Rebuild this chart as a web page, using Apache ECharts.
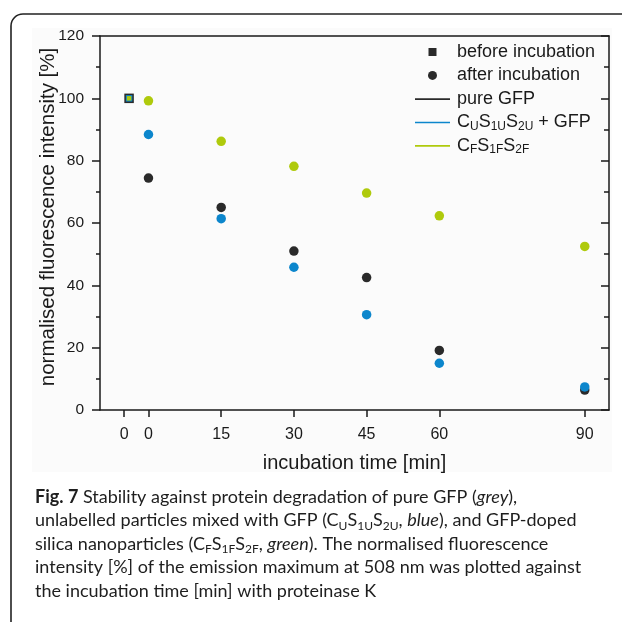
<!DOCTYPE html>
<html>
<head>
<meta charset="utf-8">
<script src="https://cdn.jsdelivr.net/npm/echarts@6/dist/echarts.min.js"></script>
<style>
html, body { margin: 0; padding: 0; background: #fff; }
#main { width: 622px; height: 622px; }
</style>
</head>
<body>
<div id="main"></div>
<script>
// x tick positions (min) and the labels printed under them
var timeTicks = [-5, 0, 15, 30, 45, 60, 90];
var timeLabels = ['0', '0', '15', '30', '45', '60', '90'];
// after incubation
var afterTimes = [0, 15, 30, 45, 60, 90];
var pureGfp = [74.4, 65.0, 51.0, 42.5, 19.1, 6.4];
var cuGfp = [88.4, 61.4, 45.8, 30.6, 15.0, 7.4];
var cfParticles = [99.2, 86.2, 78.2, 69.6, 62.3, 52.5];
// before incubation (pure GFP, CU + GFP, CF)
var beforeTime = -4;
var beforeValues = [100, 100, 100];

var captionLines = [
	'{b|Fig. 7} Stability against protein degradation of pure GFP ({i|grey}),',
	'unlabelled particles mixed with GFP (C{s|U}S{s|1U}S{s|2U}, {i|blue}), and GFP-doped',
	'silica nanoparticles (C{s|F}S{s|1F}S{s|2F}, {i|green}). The normalised fluorescence',
	'intensity [%] of the emission maximum at 508 nm was plotted against',
	'the incubation time [min] with proteinase K'
];

var BLACK = '#2a2a2a';
var BLUE = '#0c86cc';
var GREEN = '#afca0c';
var TEXT = '#1a1a1a';
var FONT = 'Liberation Sans';
var CAPTION_FONT = 'Lato';

function pairs(xs, ys) {
	var out = [];
	for (var i = 0; i < xs.length; i++) {
		out.push([xs[i], ys[i]]);
	}
	return out;
}

var legendNames = {
	'before incubation' : 'before incubation',
	'after incubation' : 'after incubation',
	'pure GFP' : 'pure GFP',
	'CU + GFP' : 'C{s|U}S{s|1U}S{s|2U} + GFP',
	'CF' : 'C{s|F}S{s|1F}S{s|2F}'
};
// icons drawn inside a padded 35x9 box so they are not stretched
var lineIcon = 'path://M0,0M0,4L35,4L35,5.6L0,5.6ZM35,9';
var squareIcon = 'path://M0,0M13.5,0.5L21.5,0.5L21.5,8.5L13.5,8.5ZM35,9';

var myChart = echarts.init(document.getElementById('main'));

var option = {
	animation : false,
	textStyle : {
		fontFamily : FONT,
		color : TEXT
	},
	grid : {
		left : 100,
		right : 13,
		top : 36,
		bottom : 212,
		containLabel : false,
		outerBoundsMode : 'none'
	},
	legend : {
		orient : 'vertical',
		left : 415,
		top : 42,
		padding : 0,
		itemGap : 3.4,
		itemWidth : 35,
		itemHeight : 9,
		selectedMode : false,
		textStyle : {
			fontFamily : FONT,
			fontSize : 18,
			lineHeight : 20,
			color : TEXT,
			padding : [0, 0, 0, 2],
			rich : {
				s : {
					fontFamily : FONT,
					fontSize : 12,
					lineHeight : 10,
					verticalAlign : 'bottom',
					color : TEXT
				}
			}
		},
		formatter : function(name) {
			return legendNames[name];
		},
		data : [
			{ name : 'before incubation', icon : squareIcon },
			{ name : 'after incubation', icon : 'circle' },
			{ name : 'pure GFP', icon : lineIcon },
			{ name : 'CU + GFP', icon : lineIcon },
			{ name : 'CF', icon : lineIcon }
		]
	},
	xAxis : [{
		type : 'value',
		position : 'bottom',
		min : -10,
		max : 95,
		name : 'incubation time [min]',
		nameLocation : 'middle',
		nameGap : 43,
		nameMoveOverlap : false,
		nameTextStyle : { fontFamily : FONT, fontSize : 20, color : TEXT },
		splitLine : { show : false },
		axisLine : { show : true, onZero : false, lineStyle : { color : TEXT, width : 1.5 } },
		axisTick : {
			show : true,
			inside : false,
			length : 7,
			customValues : timeTicks,
			lineStyle : { color : TEXT, width : 1.5 }
		},
		axisLabel : {
			show : true,
			margin : 17,
			fontFamily : FONT,
			fontSize : 16,
			color : TEXT,
			customValues : timeTicks,
			formatter : function(v) {
				var k = timeTicks.indexOf(v);
				return k >= 0 ? timeLabels[k] : '';
			}
		}
	}, {
		type : 'value',
		position : 'top',
		min : -10,
		max : 95,
		splitLine : { show : false },
		axisLine : { show : true, onZero : false, lineStyle : { color : TEXT, width : 1.5 } },
		axisTick : { show : false },
		axisLabel : { show : false }
	}],
	yAxis : [{
		type : 'value',
		position : 'left',
		min : 0,
		max : 120,
		interval : 20,
		name : 'normalised fluorescence intensity [%]',
		nameLocation : 'middle',
		nameGap : 41,
		nameMoveOverlap : false,
		nameTextStyle : { fontFamily : FONT, fontSize : 20.5, color : TEXT, padding : [0, 0, 0, 12] },
		splitLine : { show : false },
		axisLine : { show : true, onZero : false, lineStyle : { color : TEXT, width : 1.5 } },
		axisTick : { show : true, inside : false, length : 8, lineStyle : { color : TEXT, width : 1.5 } },
		minorTick : { show : true, splitNumber : 2, length : 4, lineStyle : { color : TEXT, width : 1.5 } },
		axisLabel : { margin : 16, fontFamily : FONT, fontSize : 15.5, color : TEXT }
	}, {
		type : 'value',
		position : 'right',
		min : 0,
		max : 120,
		interval : 20,
		splitLine : { show : false },
		axisLine : { show : true, onZero : false, lineStyle : { color : TEXT, width : 1.5 } },
		axisTick : { show : true, inside : true, length : 8, lineStyle : { color : TEXT, width : 1.5 } },
		minorTick : { show : true, splitNumber : 2, length : 5, lineStyle : { color : TEXT, width : 1.5 } },
		axisLabel : { show : false }
	}],
	graphic : [{
		type : 'rect',
		z : -10,
		silent : true,
		shape : { x : 32, y : 28, width : 580, height : 444 },
		style : { fill : '#fbfbfb' }
	}, {
		type : 'rect',
		z : -9,
		silent : true,
		shape : { x : 11, y : 14, width : 660, height : 660, r : 12 },
		style : { fill : 'none', stroke : '#222', lineWidth : 1.6 }
	}, {
		type : 'text',
		silent : true,
		style : {
			x : 35,
			y : 485,
			verticalAlign : 'top',
			text : captionLines.join('\n'),
			fontFamily : CAPTION_FONT,
			fontSize : 18,
			lineHeight : 23.5,
			fill : '#1e1e1e',
			rich : {
				b : { fontFamily : CAPTION_FONT, fontSize : 18, fontWeight : 'bold', lineHeight : 23.5 },
				i : { fontFamily : CAPTION_FONT, fontSize : 18, fontStyle : 'italic', lineHeight : 23.5 },
				s : { fontFamily : CAPTION_FONT, fontSize : 12, lineHeight : 10, verticalAlign : 'bottom' }
			}
		}
	}],
	series : [{
		name : 'before incubation',
		type : 'scatter',
		symbol : 'rect',
		symbolSize : 9.5,
		itemStyle : { color : BLACK, opacity : 1 },
		data : [[beforeTime, beforeValues[0]]]
	}, {
		name : 'CU before',
		type : 'scatter',
		symbol : 'rect',
		symbolSize : 6.5,
		itemStyle : { color : BLUE, opacity : 1 },
		data : [[beforeTime, beforeValues[1]]]
	}, {
		name : 'CF before',
		type : 'scatter',
		symbol : 'rect',
		symbolSize : 4.5,
		itemStyle : { color : GREEN, opacity : 1 },
		data : [[beforeTime, beforeValues[2]]]
	}, {
		name : 'after incubation',
		type : 'scatter',
		symbol : 'circle',
		itemStyle : { color : BLACK, opacity : 1 },
		data : []
	}, {
		name : 'pure GFP',
		type : 'scatter',
		symbolSize : 9.5,
		itemStyle : { color : BLACK, opacity : 1 },
		data : pairs(afterTimes, pureGfp)
	}, {
		name : 'CU + GFP',
		type : 'scatter',
		symbolSize : 9.5,
		itemStyle : { color : BLUE, opacity : 1 },
		data : pairs(afterTimes, cuGfp)
	}, {
		name : 'CF',
		type : 'scatter',
		symbolSize : 9.5,
		itemStyle : { color : GREEN, opacity : 1 },
		data : pairs(afterTimes, cfParticles)
	}]
};

myChart.setOption(option);
</script>
</body>
</html>
